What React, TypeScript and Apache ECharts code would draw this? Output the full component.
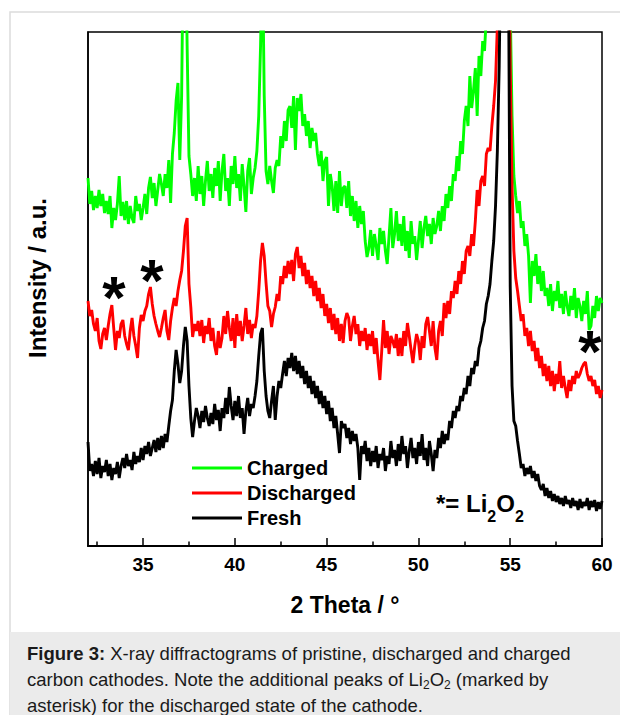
import React, { useEffect, useRef } from 'react';
import * as echarts from 'echarts';

const FONT = "'Liberation Sans', Arial, Helvetica, sans-serif";

// 2θ sampling of the traces (degrees)
const X_START = 32;
const X_STEP = 0.1;

// Intensity (a.u., offset traces), one value per 0.1°, 32.0 … 60.0
const charged = [
  368, 342, 355, 336, 350, 338, 356, 340, 352, 333,
  345, 332, 350, 318, 338, 326, 342, 370, 330, 344,
  326, 345, 322, 340, 328, 323, 350, 335, 342, 326,
  338, 352, 332, 358, 369, 348, 363, 340, 356, 372,
  362, 350, 372, 358, 386, 343, 392, 413, 445, 463,
  386, 450, 620, 640, 500, 390, 372, 350, 368, 345,
  380, 352, 370, 340, 365, 385, 355, 372, 348, 378,
  360, 385, 345, 375, 392, 355, 368, 340, 380, 362,
  390, 358, 372, 345, 382, 360, 334, 375, 388, 352,
  368, 378, 395, 430, 500, 600, 450, 375, 362, 380,
  365, 353, 378, 386, 380, 410, 398, 425, 405, 436,
  440, 418, 450, 396, 448, 435, 452, 420, 432, 410,
  425, 398, 418, 405, 413, 392, 380, 395, 365, 385,
  389, 340, 372, 360, 335, 365, 333, 375, 340, 358,
  360, 338, 365, 330, 350, 325, 345, 318, 340, 322,
  335, 305, 289, 298, 316, 290, 312, 300, 286, 318,
  302, 315, 295, 282, 310, 338, 298, 312, 335, 305,
  322, 300, 330, 295, 315, 288, 325, 302, 310, 286,
  305, 325, 298, 318, 330, 310, 322, 302, 328, 312,
  320, 335, 315, 340, 325, 352, 338, 360, 345, 372,
  365, 390, 375, 405, 392, 425, 440, 420, 470, 438,
  455, 478, 430, 490, 470, 505, 495, 530, 560, 600,
  640, 700, 760, 820, 880, 940, 980, 1000, 980, 800,
  540, 430, 370, 350, 333, 345, 318, 325, 300, 312,
  290, 243, 285, 270, 292, 262, 280, 255, 275, 250,
  258, 240, 262, 235, 255, 245, 265, 238, 252, 232,
  255, 240, 230, 250, 236, 258, 228, 248, 240, 225,
  245, 232, 255, 216, 220, 240, 228, 250, 235, 248,
  243,
];

const discharged = [
  245, 230, 236, 222, 215, 228, 205, 197, 212, 218,
  206, 220, 232, 241, 218, 196, 215, 208, 222, 226,
  210, 202, 196, 215, 228, 210, 200, 188, 218, 231,
  225, 235, 240, 252, 259, 242, 230, 222, 215, 209,
  218, 228, 236, 215, 206, 225, 238, 248, 240, 255,
  266, 275, 295, 320, 328, 262, 239, 209, 222, 215,
  225, 210, 226, 203, 220, 212, 228, 205, 218, 200,
  191, 215, 198, 208, 230, 212, 235, 218, 205, 228,
  198, 232, 210, 225, 205, 220, 238, 212, 226, 208,
  222, 218, 230, 255, 285, 303, 290, 263, 240, 235,
  219, 232, 239, 252, 245, 270, 262, 280, 268, 285,
  272, 286, 265, 292, 299, 278, 290, 270, 283, 262,
  276, 258, 270, 250, 265, 245, 258, 238, 252, 230,
  242, 223, 238, 216, 232, 212, 228, 205, 222, 203,
  225, 233, 228, 205, 220, 230, 212, 222, 200, 215,
  205, 218, 196, 212, 200, 215, 192, 208, 185, 166,
  195, 226, 198, 215, 192, 210, 205, 198, 212, 190,
  208, 190, 215, 200, 223, 210, 196, 183, 200, 212,
  205, 186, 210, 198, 222, 229, 215, 200, 225, 198,
  186, 215, 225, 210, 243, 228, 245, 232, 255, 248,
  265, 252, 275, 262, 285, 272, 295, 300, 290, 312,
  300, 325, 356, 340, 365, 370, 360, 392, 398, 395,
  420, 440, 465, 520, 640, 800, 1000, 1050, 950, 700,
  480, 360, 295, 268, 255, 240, 225, 232, 210, 218,
  200, 215, 195, 205, 185, 198, 178, 190, 170, 182,
  165, 180, 160, 175, 155, 172, 162, 185, 158, 170,
  158, 148, 166, 155, 170, 162, 175, 168, 172, 178,
  182, 184, 172, 165, 170, 160, 166, 152, 160, 148,
  156,
];

const fresh = [
  104, 75, 82, 70, 85, 72, 88, 68, 80, 74,
  86, 70, 82, 66, 78, 72, 84, 68, 80, 88,
  78, 92, 80, 86, 76, 94, 82, 90, 84, 98,
  86, 100, 92, 104, 90, 98, 106, 94, 108, 96,
  110, 98, 112, 104, 120, 135, 146, 175, 196, 182,
  163, 175, 200, 219, 205, 160, 128, 109, 125, 138,
  130, 118, 135, 124, 140, 128, 120, 133, 122, 142,
  126, 136, 115, 138, 128, 148, 132, 159, 140, 126,
  145, 130, 150, 128, 138, 112, 135, 148, 130, 142,
  138, 150, 165, 190, 212, 218, 175, 150, 135, 128,
  145, 160, 126, 150, 165, 158, 172, 185, 170, 188,
  178, 193, 175, 190, 172, 185, 168, 180, 162, 175,
  158, 170, 152, 165, 148, 160, 142, 155, 138, 150,
  132, 145, 125, 138, 118, 130, 112, 93, 125, 118,
  122, 108, 118, 102, 115, 105, 112, 98, 66, 100,
  92, 105, 85, 98, 80, 95, 84, 100, 78, 92,
  86, 98, 75, 90, 82, 105, 88, 96, 80, 102,
  85, 110, 92, 100, 78, 95, 108, 88, 98, 82,
  104, 90, 112, 86, 98, 80, 105, 92, 75, 96,
  88, 108, 98, 115, 102, 112, 106, 125, 118, 135,
  128, 140, 135, 150, 145, 158, 152, 170, 160, 178,
  172, 185, 180, 198, 205, 218, 225, 242, 250, 262,
  285, 305, 340, 395, 480, 620, 900, 1050, 1000, 600,
  260, 160, 125, 120, 105, 92, 78, 82, 70, 78,
  72, 80, 68, 75, 65, 72, 60, 56, 62, 50,
  58, 48, 55, 45, 52, 44, 50, 42, 48, 40,
  50, 42, 46, 38, 48, 40, 45, 36, 47, 38,
  44, 40, 48, 36, 45, 39, 46, 35, 44, 37,
  45,
];

const seriesNames = ['Charged', 'Discharged', 'Fresh'];
const seriesColors = ['#00ff00', '#ff0000', '#000000'];
const majorTicks = [35, 40, 45, 50, 55, 60];
const minorTicks = [32.5, 37.5, 42.5, 47.5, 52.5, 57.5];

const captionLines = [
  '{b|Figure 3:} X-ray diffractograms of pristine, discharged and charged',
  'carbon cathodes. Note the additional peaks of Li{s|2}O{s|2} (marked by',
  'asterisk) for the discharged state of the cathode.',
];

const toPairs = (arr: number[]) =>
  arr.map((v, i) => [Math.round((X_START + i * X_STEP) * 10) / 10, v]);

export default function App() {
  const ref = useRef<HTMLDivElement>(null);

  useEffect(() => {
    if (!ref.current) return;
    const chart = echarts.init(ref.current, undefined, { renderer: 'svg' });

    const dataSets = [charged, discharged, fresh];
    const series = dataSets.map((arr, i) => ({
      type: 'line',
      name: seriesNames[i],
      data: toPairs(arr),
      xAxisIndex: 0,
      yAxisIndex: 0,
      showSymbol: false,
      symbol: 'none',
      clip: true,
      z: 2 + i,
      lineStyle: { color: seriesColors[i], width: 2.9 },
      itemStyle: { color: seriesColors[i] },
    }));

    const asterisk = (x: number, y: number) => ({
      type: 'text',
      x,
      y,
      z: 20,
      silent: true,
      style: {
        text: '*',
        fontSize: 60,
        fontWeight: 'bold',
        fontFamily: FONT,
        fill: '#000',
        align: 'center',
        verticalAlign: 'middle',
      },
    });

    const option: any = {
      animation: false,
      backgroundColor: 'transparent',
      textStyle: { fontFamily: FONT },
      grid: {
        left: 88,
        top: 32,
        right: 18,
        bottom: 169,
        show: true,
        borderColor: '#000',
        borderWidth: 1.5,
        backgroundColor: 'transparent',
      },
      legend: {
        data: seriesNames,
        orient: 'vertical',
        left: 187,
        top: 453,
        itemWidth: 50,
        itemHeight: 3,
        itemGap: 5,
        icon: 'rect',
        selectedMode: false,
        textStyle: {
          fontSize: 20,
          fontWeight: 'bold',
          color: '#000',
          fontFamily: FONT,
          lineHeight: 20,
        },
      },
      xAxis: [
        {
          type: 'value',
          min: 32,
          max: 60,
          position: 'bottom',
          axisLine: { show: true, onZero: false, lineStyle: { color: '#000', width: 2 } },
          axisTick: {
            show: true,
            inside: true,
            length: 8,
            customValues: majorTicks,
            lineStyle: { color: '#000', width: 1.5 },
          },
          axisLabel: {
            show: true,
            customValues: majorTicks,
            margin: 9,
            fontSize: 19,
            fontWeight: 'bold',
            color: '#000',
            fontFamily: FONT,
          },
          splitLine: { show: false },
          name: '2 Theta / °',
          nameLocation: 'middle',
          nameGap: 47,
          nameTextStyle: { fontSize: 23, fontWeight: 'bold', color: '#000', fontFamily: FONT },
        },
        {
          type: 'value',
          min: 32,
          max: 60,
          position: 'bottom',
          axisLine: { show: false, onZero: false },
          axisTick: {
            show: true,
            inside: true,
            length: 4.5,
            customValues: minorTicks,
            lineStyle: { color: '#000', width: 1.5 },
          },
          axisLabel: { show: false },
          splitLine: { show: false },
        },
      ],
      yAxis: {
        type: 'value',
        min: 0,
        max: 514,
        axisLine: { show: true, lineStyle: { color: '#000', width: 1.5 } },
        axisTick: { show: false },
        axisLabel: { show: false },
        splitLine: { show: false },
        name: 'Intensity / a.u.',
        nameLocation: 'middle',
        nameGap: 39,
        nameTextStyle: {
          fontSize: 24,
          fontWeight: 'bold',
          color: '#000',
          fontFamily: FONT,
          padding: [0, 0, 0, 22],
        },
      },
      series,
      graphic: [
        {
          type: 'rect',
          z: -10,
          silent: true,
          shape: { x: 10, y: 12, width: 640, height: 740 },
          style: { fill: '#ffffff', stroke: '#dcdcdc', lineWidth: 1.5 },
        },
        {
          type: 'rect',
          z: -9,
          silent: true,
          shape: { x: 10, y: 632, width: 640, height: 100 },
          style: { fill: '#ebebeb' },
        },
        asterisk(114, 297),
        asterisk(152, 280),
        asterisk(590, 351),
        {
          type: 'text',
          x: 436,
          y: 503,
          z: 20,
          silent: true,
          style: {
            text: '*= Li{s|2}O{s|2}',
            fontSize: 24,
            fontWeight: 'bold',
            fontFamily: FONT,
            fill: '#000',
            lineHeight: 50,
            align: 'left',
            verticalAlign: 'middle',
            rich: {
              s: {
                fontSize: 16,
                fontWeight: 'bold',
                fontFamily: FONT,
                fill: '#000',
                lineHeight: 16,
                padding: [26, 0, 0, 0],
              },
            },
          },
        },
        ...captionLines.map((t, i) => ({
          type: 'text',
          x: 27,
          y: 653 + i * 26,
          z: 20,
          silent: true,
          style: {
            text: t,
            fontSize: 18.5,
            fontFamily: FONT,
            fill: '#1a1a1a',
            lineHeight: 26,
            align: 'left',
            verticalAlign: 'middle',
            rich: {
              b: { fontSize: 18.5, fontWeight: 'bold', fontFamily: FONT, fill: '#1a1a1a', lineHeight: 26 },
              s: {
                fontSize: 12,
                fontFamily: FONT,
                fill: '#1a1a1a',
                lineHeight: 12,
                padding: [11, 0, 0, 0],
              },
            },
          },
        })),
      ],
    };

    chart.setOption(option);
    return () => chart.dispose();
  }, []);

  return (
    <div
      ref={ref}
      style={{ position: 'absolute', left: 0, top: 0, width: 620, height: 715, background: '#fff' }}
    />
  );
}
